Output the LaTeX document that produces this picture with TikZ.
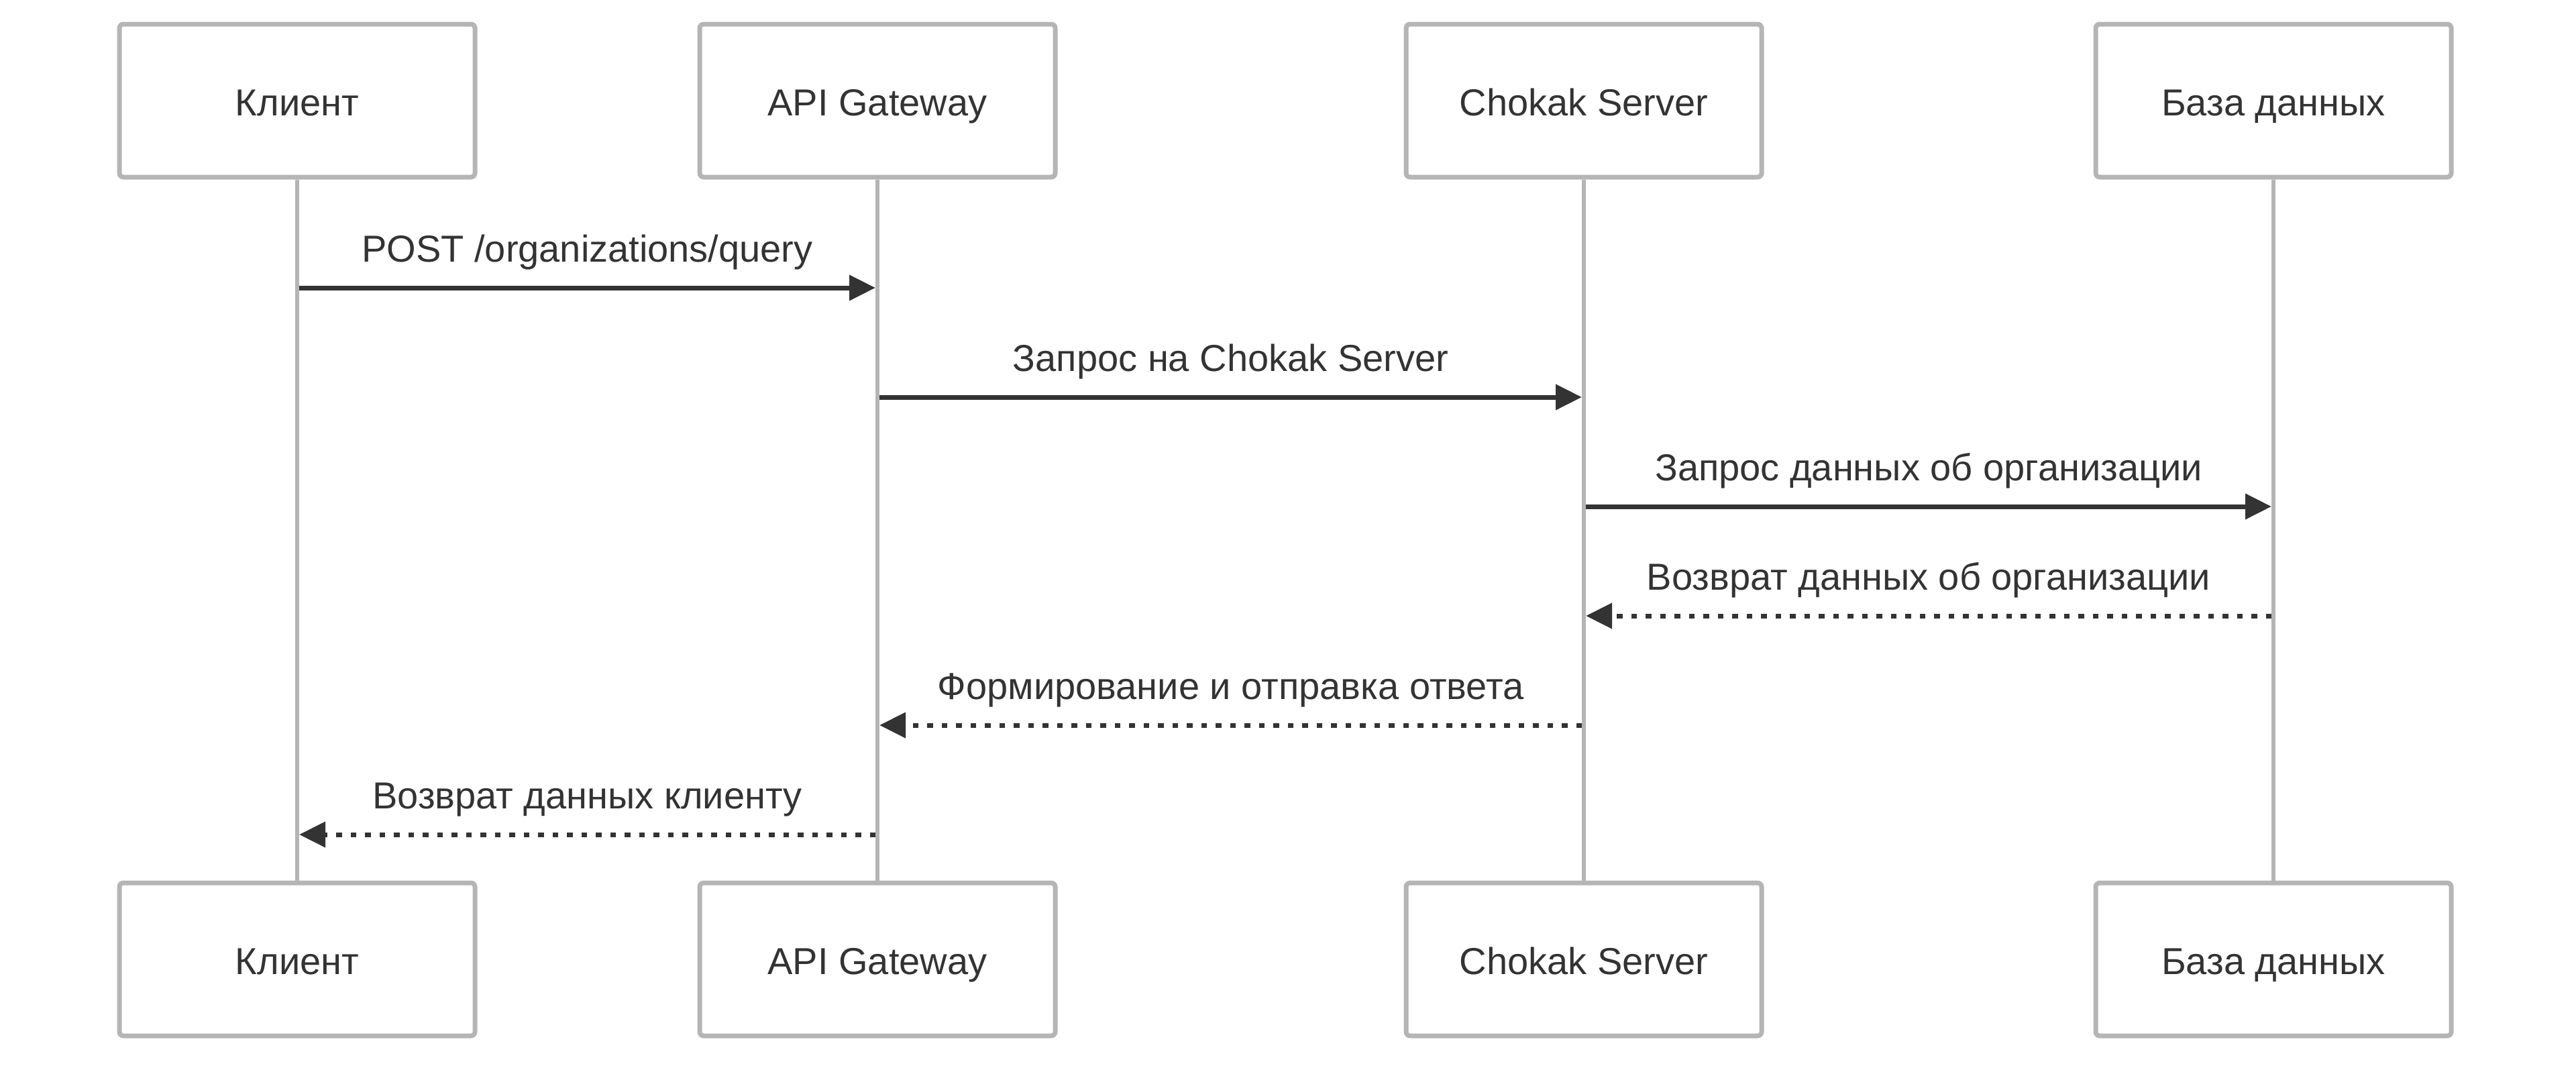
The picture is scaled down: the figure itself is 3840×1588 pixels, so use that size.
\documentclass[tikz,border=0pt]{standalone}
\usepackage{fontspec}
\setmainfont{Liberation Sans}
\usetikzlibrary{arrows.meta}
\definecolor{boxgray}{HTML}{B5B5B5}
\definecolor{ink}{HTML}{333333}
\tikzset{
  actorbox/.style={draw=boxgray, fill=white, line width=7pt, rounded corners=6pt,
    minimum width=530pt, minimum height=228pt, inner sep=0pt,
    text height=52pt, text depth=8pt, text=ink,
    font=\fontsize{56pt}{67pt}\selectfont},
  lifeline/.style={draw=boxgray, line width=6.5pt},
  msg/.style={draw=ink, line width=7pt, -{Triangle[length=39pt,width=37pt]}},
  reply/.style={msg, dash pattern=on 8.5pt off 13pt},
  msglabel/.style={anchor=base, yshift=39pt, text=ink, inner sep=0pt,
    font=\fontsize{56pt}{67pt}\selectfont}
}
\begin{document}
\begin{tikzpicture}[x=1pt, y=-1pt]
\useasboundingbox (0,0) rectangle (3840,1588);
% top actors
\node[actorbox] (c1) at (443,150) {Клиент};
\node[actorbox] (g1) at (1308,150) {API Gateway};
\node[actorbox] (s1) at (2361,150) {Chokak Server};
\node[actorbox] (d1) at (3389,150) {База данных};
% bottom actors
\node[actorbox] (c2) at (443,1430) {Клиент};
\node[actorbox] (g2) at (1308,1430) {API Gateway};
\node[actorbox] (s2) at (2361,1430) {Chokak Server};
\node[actorbox] (d2) at (3389,1430) {База данных};
% lifelines
\draw[lifeline] (c1.south) -- (c2.north);
\draw[lifeline] (g1.south) -- (g2.north);
\draw[lifeline] (s1.south) -- (s2.north);
\draw[lifeline] (d1.south) -- (d2.north);
% message end points
\coordinate (m1s) at (446,429);  \coordinate (m1e) at (1305,429);
\coordinate (m2s) at (1311,592); \coordinate (m2e) at (2358,592);
\coordinate (m3s) at (2364,755); \coordinate (m3e) at (3386,755);
\coordinate (m4s) at (3386,918); \coordinate (m4e) at (2364,918);
\coordinate (m5s) at (2358,1081); \coordinate (m5e) at (1311,1081);
\coordinate (m6s) at (1305,1244); \coordinate (m6e) at (446,1244);
% messages
\draw[msg] (m1s) -- (m1e) node[midway, msglabel] {POST /organizations/query};
\draw[msg] (m2s) -- (m2e) node[midway, msglabel] {Запрос на Chokak Server};
\draw[msg] (m3s) -- (m3e) node[midway, msglabel] {Запрос данных об организации};
\draw[reply] (m4s) -- (m4e) node[midway, msglabel] {Возврат данных об организации};
\draw[reply] (m5s) -- (m5e) node[midway, msglabel] {Формирование и отправка ответа};
\draw[reply] (m6s) -- (m6e) node[midway, msglabel] {Возврат данных клиенту};
\end{tikzpicture}
\end{document}
